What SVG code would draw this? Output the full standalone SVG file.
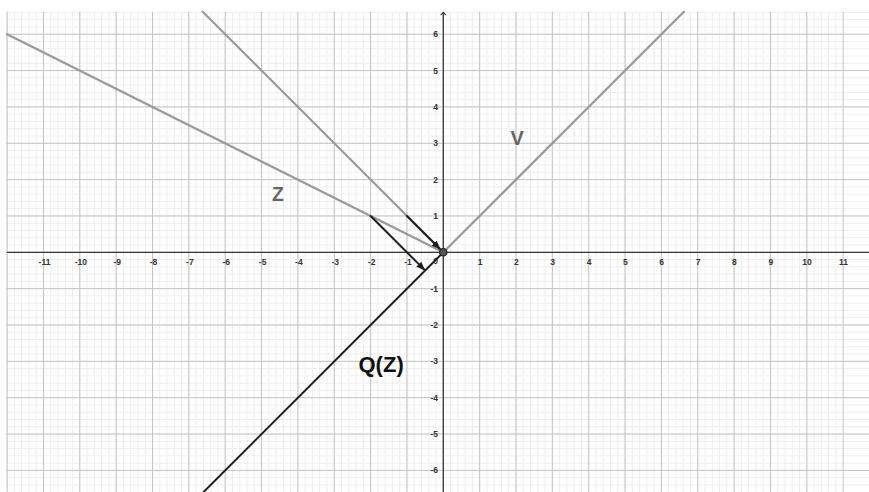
<svg xmlns="http://www.w3.org/2000/svg" width="869" height="492" viewBox="0 0 869 492">
<defs>
<style>
.minor{stroke:#eeeeee;stroke-width:1;fill:none}
.major{stroke:#c4c4c4;stroke-width:1;fill:none}
.axis{stroke:#3a3a3a;stroke-width:1.3;fill:none}
.gray{stroke:#999;stroke-width:2.2;fill:none;stroke-linecap:round}
.dark{stroke:#1f1f1f;stroke-width:2;fill:none;stroke-linecap:round}
.tick{font-family:"Liberation Sans",Arial,sans-serif;font-size:8.5px;font-weight:bold;fill:#333}
.xt{text-anchor:middle}
.yt{text-anchor:end}
.lbl{font-family:"Liberation Sans",Arial,sans-serif;font-weight:bold}
</style>
<marker id="ah" viewBox="0 0 10 10" refX="9" refY="5" markerWidth="4.5" markerHeight="4.5" markerUnits="strokeWidth" orient="auto">
<path d="M0,1 L10,5 L0,9 Z" fill="#1f1f1f"/>
</marker>
</defs>
<rect width="869" height="492" fill="#fff"/>
<g id="grid">
<path class="minor" d="M7.1 11.7v481m7.27-481v481m7.27-481v481m7.27-481v481m7.27-481v481m7.27-481v481m7.27-481v481m7.27-481v481m7.27-481v481m7.27-481v481m7.27-481v481m7.27-481v481m7.27-481v481m7.27-481v481m7.27-481v481m7.27-481v481m7.27-481v481m7.27-481v481m7.27-481v481m7.27-481v481m7.27-481v481m7.27-481v481m7.27-481v481m7.27-481v481m7.27-481v481m7.27-481v481m7.27-481v481m7.27-481v481m7.27-481v481m7.27-481v481m7.27-481v481m7.27-481v481m7.27-481v481m7.27-481v481m7.27-481v481m7.27-481v481m7.27-481v481m7.27-481v481m7.27-481v481m7.27-481v481m7.27-481v481m7.27-481v481m7.27-481v481m7.27-481v481m7.27-481v481m7.27-481v481m7.27-481v481m7.27-481v481m7.27-481v481m7.27-481v481m7.27-481v481m7.27-481v481m7.27-481v481m7.27-481v481m7.27-481v481m7.27-481v481m7.27-481v481m7.27-481v481m7.27-481v481m7.27-481v481m7.27-481v481m7.27-481v481m7.27-481v481m7.27-481v481m7.27-481v481m7.27-481v481m7.27-481v481m7.27-481v481m7.27-481v481m7.27-481v481m7.27-481v481m7.27-481v481m7.27-481v481m7.27-481v481m7.27-481v481m7.27-481v481m7.27-481v481m7.27-481v481m7.27-481v481m7.27-481v481m7.27-481v481m7.27-481v481m7.27-481v481m7.27-481v481m7.27-481v481m7.27-481v481m7.27-481v481m7.27-481v481m7.27-481v481m7.27-481v481m7.27-481v481m7.27-481v481m7.27-481v481m7.27-481v481m7.27-481v481m7.27-481v481m7.27-481v481m7.27-481v481m7.27-481v481m7.27-481v481m7.27-481v481m7.27-481v481m7.27-481v481m7.27-481v481m7.27-481v481m7.27-481v481m7.27-481v481m7.27-481v481m7.27-481v481m7.27-481v481m7.27-481v481m7.27-481v481m7.27-481v481m7.27-481v481m7.27-481v481"/>
<path class="minor" d="M6.7 12.39h863m-863 7.27h863m-863 7.27h863m-863 7.27h863m-863 7.27h863m-863 7.27h863m-863 7.27h863m-863 7.27h863m-863 7.27h863m-863 7.27h863m-863 7.27h863m-863 7.27h863m-863 7.27h863m-863 7.27h863m-863 7.27h863m-863 7.27h863m-863 7.27h863m-863 7.27h863m-863 7.27h863m-863 7.27h863m-863 7.27h863m-863 7.27h863m-863 7.27h863m-863 7.27h863m-863 7.27h863m-863 7.27h863m-863 7.27h863m-863 7.27h863m-863 7.27h863m-863 7.27h863m-863 7.27h863m-863 7.27h863m-863 7.27h863m-863 7.27h863m-863 7.27h863m-863 7.27h863m-863 7.27h863m-863 7.27h863m-863 7.27h863m-863 7.27h863m-863 7.27h863m-863 7.27h863m-863 7.27h863m-863 7.27h863m-863 7.27h863m-863 7.27h863m-863 7.27h863m-863 7.27h863m-863 7.27h863m-863 7.27h863m-863 7.27h863m-863 7.27h863m-863 7.27h863m-863 7.27h863m-863 7.27h863m-863 7.27h863m-863 7.27h863m-863 7.27h863m-863 7.27h863m-863 7.27h863m-863 7.27h863m-863 7.27h863m-863 7.27h863m-863 7.27h863m-863 7.27h863m-863 7.27h863"/>
<path class="major" d="M7.1 11.7v481m36.35-481v481m36.35-481v481m36.35-481v481m36.35-481v481m36.35-481v481m36.35-481v481m36.35-481v481m36.35-481v481m36.35-481v481m36.35-481v481m36.35-481v481m36.35-481v481m36.35-481v481m36.35-481v481m36.35-481v481m36.35-481v481m36.35-481v481m36.35-481v481m36.35-481v481m36.35-481v481m36.35-481v481m36.35-481v481m36.35-481v481"/>
<path class="major" d="M6.7 34.2h863m-863 36.35h863m-863 36.35h863m-863 36.35h863m-863 36.35h863m-863 36.35h863m-863 36.35h863m-863 36.35h863m-863 36.35h863m-863 36.35h863m-863 36.35h863m-863 36.35h863m-863 36.35h863"/>
</g>
<g id="axes">
<path class="axis" d="M6.7 252.3H869M443.3 492V12.5"/>
<path d="M440.6 15.2L443.3 12.4L446 15.2" fill="none" stroke="#3a3a3a" stroke-width="1.1"/>
<g class="tick xt">
<text x="44.5" y="265">-11</text><text x="80.8" y="265">-10</text><text x="117.2" y="265">-9</text><text x="153.5" y="265">-8</text><text x="189.9" y="265">-7</text><text x="226.2" y="265">-6</text><text x="262.6" y="265">-5</text><text x="298.9" y="265">-4</text><text x="335.3" y="265">-3</text><text x="371.6" y="265">-2</text><text x="408" y="265">-1</text>
<text x="480" y="265">1</text><text x="516.3" y="265">2</text><text x="552.7" y="265">3</text><text x="589" y="265">4</text><text x="625.4" y="265">5</text><text x="661.7" y="265">6</text><text x="698.1" y="265">7</text><text x="734.4" y="265">8</text><text x="770.8" y="265">9</text><text x="807.1" y="265">10</text><text x="843.5" y="265">11</text>
</g>
<g class="tick yt">
<text x="438" y="37.2">6</text><text x="438" y="73.6">5</text><text x="438" y="109.9">4</text><text x="438" y="146.3">3</text><text x="438" y="182.6">2</text><text x="438" y="219">1</text>
<text x="438" y="291.7">-1</text><text x="438" y="328">-2</text><text x="438" y="364.4">-3</text><text x="438" y="400.7">-4</text><text x="438" y="437.1">-5</text><text x="438" y="473.4">-6</text>
<text x="438" y="263.5">0</text>
</g>
</g>
<g id="connectors">
<path id="lineZ" class="gray" d="M7.1 34.2L443.3 252.3"/>
<path id="lineNegX" class="gray" d="M202.7 11.7L443.3 252.3"/>
<path id="lineV" class="gray" d="M443.3 252.3L683.9 11.7"/>
<path id="lineQZ" class="dark" d="M443.3 252.3L203.6 492"/>
<path id="arrow1" class="dark" d="M406.95 215.95L439.8 248.8" marker-end="url(#ah)"/>
<path id="arrow2" class="dark" d="M370.6 215.95L424.5 269.9" marker-end="url(#ah)"/>
</g>
<g id="origin">
<circle cx="443.3" cy="252.3" r="3.7" fill="#555" stroke="#222" stroke-width="1.2"/>
</g>
<g id="labelZ"><text class="lbl" x="272" y="201" font-size="19.5" fill="#666">Z</text></g>
<g id="labelV"><text class="lbl" x="510.5" y="145" font-size="20" fill="#666">V</text></g>
<g id="labelQZ"><text class="lbl" x="358.5" y="372" font-size="22" fill="#111">Q(Z)</text></g>
</svg>
